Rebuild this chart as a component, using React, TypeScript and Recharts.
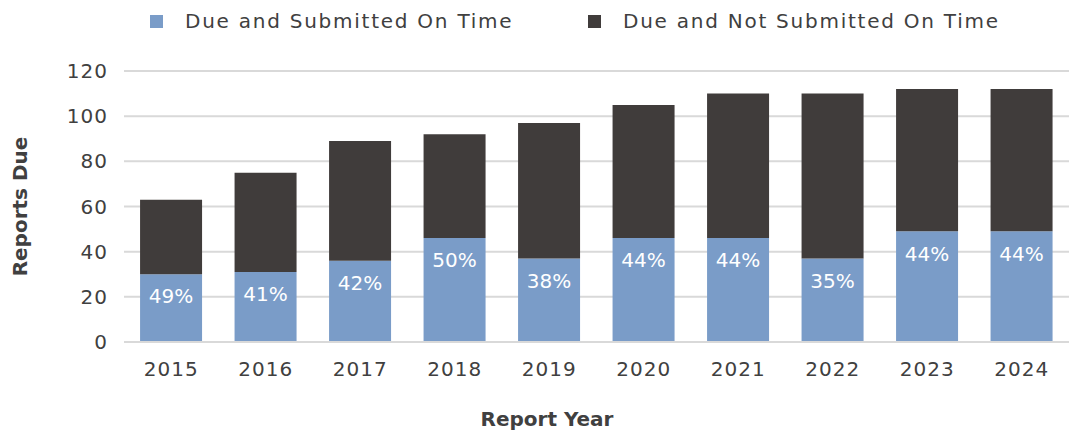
import { BarChart, Bar, XAxis, YAxis, CartesianGrid, LabelList, Label } from 'recharts'

const years = ['2015', '2016', '2017', '2018', '2019', '2020', '2021', '2022', '2023', '2024']
const submitted = [30, 31, 36, 46, 37, 46, 46, 37, 49, 49]
const notSubmitted = [33, 44, 53, 46, 60, 59, 64, 73, 63, 63]
const pctLabels = ['49%', '41%', '42%', '50%', '38%', '44%', '44%', '35%', '44%', '44%']
const yTicks = [0, 20, 40, 60, 80, 100, 120]

const BLUE = '#7A9CC8'
const DARK = '#403C3B'
const TEXT = '#404040'
const FONT = "'DejaVu Sans', sans-serif"

const data = years.map((year, i) => ({
  year,
  submitted: submitted[i],
  notSubmitted: notSubmitted[i],
  pct: pctLabels[i],
}))

function YTitle(props: any) {
  const vb = props.viewBox
  const cx = 20
  const cy = vb.y + vb.height / 2
  return (
    <text
      x={cx}
      y={cy}
      transform={`rotate(-90 ${cx} ${cy})`}
      textAnchor="middle"
      dominantBaseline="central"
      fill={TEXT}
      fontSize={20}
      fontWeight="bold"
      fontFamily={FONT}
    >
      Reports Due
    </text>
  )
}

function XTitle() {
  return (
    <text
      x={547}
      y={419}
      textAnchor="middle"
      dominantBaseline="central"
      fill={TEXT}
      fontSize={20}
      fontWeight="bold"
      fontFamily={FONT}
    >
      Report Year
    </text>
  )
}

const legendItems = [
  { name: 'Due and Submitted On Time', color: BLUE, left: 150 },
  { name: 'Due and Not Submitted On Time', color: DARK, left: 588 },
]

export default function App() {
  return (
    <div style={{ position: 'absolute', left: 0, top: 0, width: 1069, height: 431, background: '#fff' }}>
      {legendItems.map((item) => (
        <div
          key={item.name}
          style={{
            position: 'absolute',
            left: item.left,
            top: 8,
            height: 26,
            display: 'flex',
            alignItems: 'center',
            fontFamily: FONT,
            fontSize: 20,
            letterSpacing: 1.75,
            color: TEXT,
            whiteSpace: 'nowrap',
          }}
        >
          <span style={{ display: 'inline-block', width: 13, height: 13, background: item.color, marginRight: 22 }} />
          {item.name}
        </div>
      ))}
      <BarChart
        width={1069}
        height={431}
        data={data}
        margin={{ top: 71, right: 0, bottom: 0, left: 0 }}
        barCategoryGap="17%"
      >
        <CartesianGrid vertical={false} stroke="#d9d9d9" strokeWidth={2} />
        <XAxis
          dataKey="year"
          height={89}
          tickLine={false}
          axisLine={{ stroke: '#d9d9d9', strokeWidth: 2 }}
          tickMargin={14}
          tick={{ fill: TEXT, fontSize: 20, fontFamily: FONT, letterSpacing: 1 }}
        >
          <Label content={XTitle} />
        </XAxis>
        <YAxis
          width={124}
          domain={[0, 120]}
          ticks={yTicks}
          tickLine={false}
          axisLine={false}
          tickMargin={10}
          tick={{ fill: TEXT, fontSize: 20, fontFamily: FONT, letterSpacing: 1 }}
        >
          <Label content={YTitle} />
        </YAxis>
        <Bar dataKey="submitted" stackId="a" fill={BLUE} isAnimationActive={false}>
          <LabelList
            dataKey="pct"
            position="insideTop"
            offset={15}
            fill="#ffffff"
            fontSize={20}
            fontFamily={FONT}
          />
        </Bar>
        <Bar dataKey="notSubmitted" stackId="a" fill={DARK} isAnimationActive={false} />
      </BarChart>
    </div>
  )
}
